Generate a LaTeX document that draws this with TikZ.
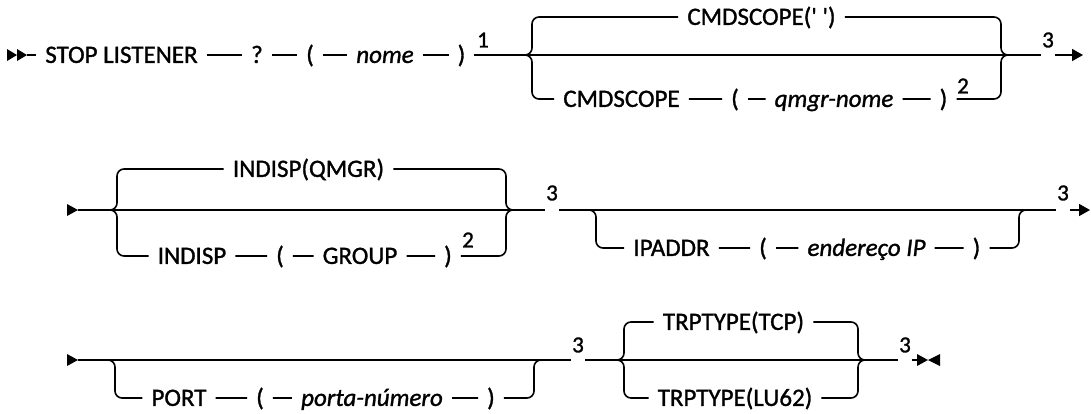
\documentclass[tikz,border=0pt]{standalone}
\usepackage{fontspec}
\setmainfont{Carlito}[RawFeature={embolden=1.2}]
\usetikzlibrary{arrows.meta}

\begin{document}
\begin{tikzpicture}[x=1pt, y=-1pt,
    rail/.style={line width=1.6pt},
    item/.style={inner xsep=9pt, inner ysep=0pt, text height=15.8pt, text depth=0pt, font=\fontsize{25}{30}\selectfont},
    var/.style={item, font=\fontsize{25}{30}\selectfont\itshape},
    note/.style={inner sep=1pt, font=\fontsize{23}{27}\selectfont},
    branch/.style={rail, rounded corners=7pt},
    endarrow/.style={rail, -{Triangle[length=11pt,width=12pt]}}
]
\useasboundingbox (0,0) rectangle (1091,413);

% row 1: STOP LISTENER ... CMDSCOPE
\node[item] (stop) at (121.5,55) {STOP LISTENER};
\node[item] (q) at (257,55) {?};
\node[item] (lp1) at (310,55) {(};
\node[var] (nome) at (385,55) {nome};
\node[item] (rp1) at (461.5,55) {)};
\node[note] (n1) at (483,40) {1};
\coordinate (b1l) at (523,55);
\node[item] (dflt1) at (761.5,17) {CMDSCOPE(\textquotesingle\ \textquotesingle)};
\node[item] (cs) at (621.5,99) {CMDSCOPE};
\node[item] (lp2) at (735,99) {(};
\node[var] (qmgr) at (834,99) {qmgr-nome};
\node[item] (rp2) at (943.5,99) {)};
\node[note] (n2) at (963,86) {2};
\coordinate (b1r) at (1008,55);
\node[note] (n3a) at (1048,40) {3};
\coordinate (e1) at (1083,55);

\fill (7,49) -- (17,55) -- (7,61) -- cycle (17,49) -- (27,55) -- (17,61) -- cycle;
\draw[rail] (27,55) -- (stop) -- (q) -- (lp1) -- (nome) -- (rp1) -- (b1l) -- (b1r) -- (n3a.west |- b1r);
\draw[endarrow] (n3a.east |- b1r) -- (e1);
\draw[branch] (b1l) -| (532,17) -- (dflt1) -- (1001,17) |- (b1r);
\draw[branch] (b1l) -| (532,99) -- (cs) -- (lp2) -- (qmgr) -- (rp2) -- (1001,99) |- (b1r);

% row 2: INDISP, IPADDR
\coordinate (s2) at (78,210);
\coordinate (b2l) at (110,210);
\node[item] (dflt2) at (308.5,169) {INDISP(QMGR)};
\node[item] (ind) at (192,256) {INDISP};
\node[item] (lp3) at (280,256) {(};
\node[item] (grp) at (360,256) {GROUP};
\node[item] (rp3) at (448,256) {)};
\node[note] (n2b) at (468,240) {2};
\coordinate (b2r) at (513,210);
\node[note] (n3b) at (552,193) {3};
\coordinate (o1l) at (588,210);
\node[item] (ipa) at (671.5,248) {IPADDR};
\node[item] (lp4) at (763,248) {(};
\node[var] (ip) at (866.5,248) {endereço IP};
\node[item] (rp4) at (976.5,248) {)};
\coordinate (o1r) at (1027,210);
\node[note] (n3c) at (1063,193) {3};
\coordinate (e2) at (1090,210);

\fill (67,204) -- (78,210) -- (67,216) -- cycle;
\draw[rail] (s2) -- (b2r) -- (n3b.west |- b2r);
\draw[rail] (n3b.east |- b2r) -- (n3c.west |- b2r);
\draw[endarrow] (n3c.east |- b2r) -- (e2);
\draw[branch] (b2l) -| (117,169) -- (dflt2) -- (506,169) |- (b2r);
\draw[branch] (b2l) -| (117,256) -- (ind) -- (lp3) -- (grp) -- (rp3) -- (506,256) |- (b2r);
\draw[branch] (o1l) -| (596,248) -- (ipa) -- (lp4) -- (ip) -- (rp4) -- (1019,248) |- (o1r);

% row 3: PORT, TRPTYPE
\coordinate (s3) at (78,360);
\coordinate (o2l) at (107,360);
\node[item] (port) at (179,398) {PORT};
\node[item] (lp5) at (260,398) {(};
\node[var] (pnum) at (372,398) {porta-número};
\node[item] (rp5) at (491,398) {)};
\coordinate (o2r) at (542,360);
\node[note] (n3d) at (578,345) {3};
\coordinate (b3l) at (617,360);
\node[item] (tcp) at (733.5,322) {TRPTYPE(TCP)};
\node[item] (lu) at (735,398) {TRPTYPE(LU62)};
\coordinate (b3r) at (868,360);
\node[note] (n3e) at (905,345) {3};
\coordinate (e3) at (917,360);

\fill (67,354) -- (78,360) -- (67,366) -- cycle;
\draw[rail] (s3) -- (n3d.west |- s3);
\draw[rail] (n3d.east |- s3) -- (b3r) -- (n3e.west |- b3r);
\draw[rail] (n3e.east |- b3r) -- (e3);
\draw[branch] (o2l) -| (115,398) -- (port) -- (lp5) -- (pnum) -- (rp5) -- (534,398) |- (o2r);
\draw[branch] (b3l) -| (624,322) -- (tcp) -- (858,322) |- (b3r);
\draw[branch] (b3l) -| (624,398) -- (lu) -- (858,398) |- (b3r);
\fill (917,354) -- (928,360) -- (917,366) -- cycle (940,354) -- (928,360) -- (940,366) -- cycle;
\end{tikzpicture}
\end{document}
